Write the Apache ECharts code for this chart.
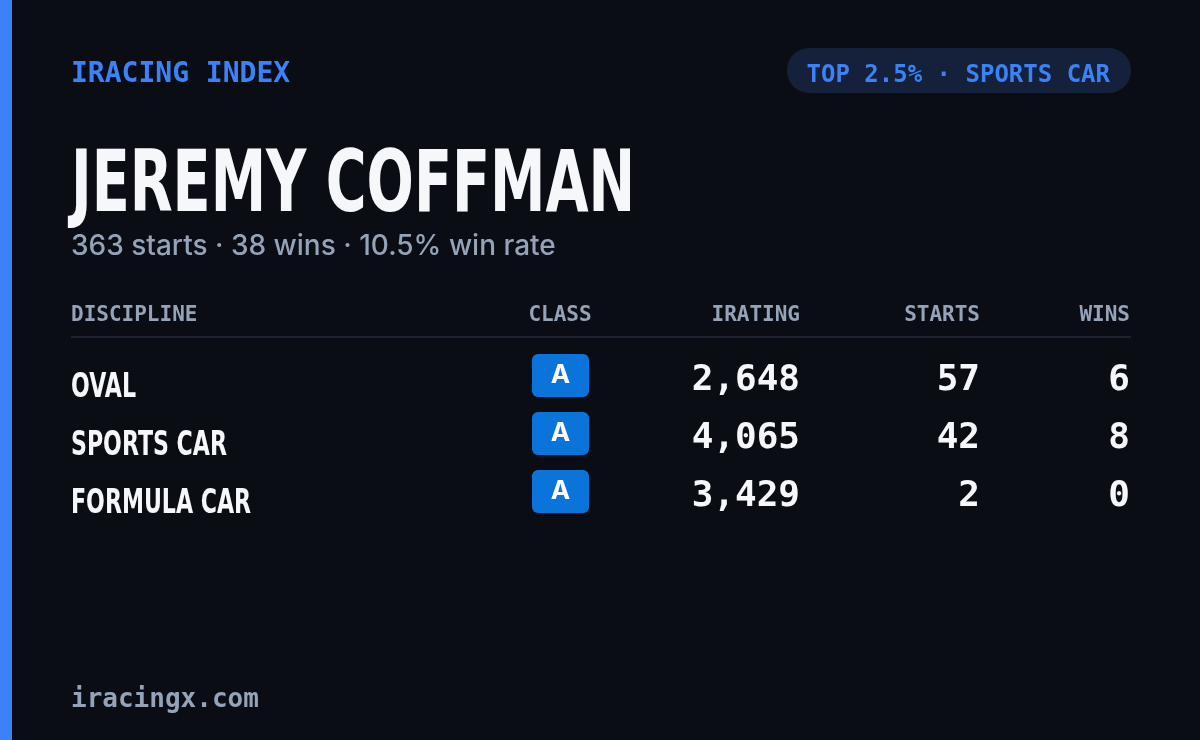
<!DOCTYPE html>
<html><head><meta charset="utf-8">
<script src="https://cdn.jsdelivr.net/npm/echarts@6/dist/echarts.min.js"></script>
<style>html,body{margin:0;padding:0;background:#0a0d14}#c{width:1200px;height:740px}</style>
</head><body><div id="c"></div>
<script>
const disciplines = ["OVAL", "SPORTS CAR", "FORMULA CAR"];
const classes = ["A", "A", "A"];
const iratings = [2648, 4065, 3429];
const starts = [57, 42, 2];
const wins = [6, 8, 0];
const headers = ["DISCIPLINE", "CLASS", "IRATING", "STARTS", "WINS"];
const totalStarts = 363, totalWins = 38;

const chart = echarts.init(document.getElementById('c'));
const mono = '"DejaVu Sans Mono", monospace';
const cond = '"DejaVu Sans", sans-serif';
const g = [];
g.push({type:'rect', shape:{x:0,y:0,width:12,height:740}, style:{fill:'#3b82f6'}});
g.push({type:'text', x:71, y:75, style:{text:'IRACING INDEX', fill:'#3b82f6', font:'bold 28px '+mono, textVerticalAlign:'middle'}});
g.push({type:'rect', shape:{x:787,y:48,width:344,height:45,r:22}, style:{fill:'#15213a'}});
g.push({type:'text', x:1110, y:76, style:{text:'TOP 2.5% · SPORTS CAR', fill:'#3b82f6', font:'bold 24px '+mono, textAlign:'right', textVerticalAlign:'middle'}});
g.push({type:'text', x:71, y:189, scaleX:0.655, style:{text:'JEREMY COFFMAN', fill:'#f5f7fb', font:'bold 85px '+cond, textVerticalAlign:'middle'}});
const rate = (totalWins/totalStarts*100).toFixed(1);
g.push({type:'text', x:71, y:247, style:{text:`${totalStarts} starts · ${totalWins} wins · ${rate}% win rate`, fill:'#94a3b8', font:'500 28px Inter, "Noto Sans", sans-serif', textVerticalAlign:'middle'}});
const colX = [71, 560, 800, 980, 1130];
const colAlign = ['left','center','right','right','right'];
headers.forEach((h,i)=>g.push({type:'text', x:colX[i], y:316, style:{text:h, fill:'#94a3b8', font:'bold 21px '+mono, textAlign:colAlign[i], textVerticalAlign:'middle'}}));
g.push({type:'rect', shape:{x:71,y:336,width:1060,height:2}, style:{fill:'#1c2230'}});
disciplines.forEach((d,r)=>{
  const y = 378 + r*58;
  g.push({type:'text', x:71, y:y+10, scaleX:0.65, style:{text:d, fill:'#f5f7fb', font:'bold 34px '+cond, textVerticalAlign:'middle'}});
  g.push({type:'rect', shape:{x:532,y:y-24,width:57,height:43,r:6}, style:{fill:'#0b74da'}});
  g.push({type:'text', x:560.5, y:y-3, style:{text:classes[r], fill:'#ffffff', font:'bold 26px Inter, "Noto Sans", sans-serif', textAlign:'center', textVerticalAlign:'middle'}});
  const vals = [iratings[r].toLocaleString('en-US'), String(starts[r]), String(wins[r])];
  vals.forEach((v,k)=>g.push({type:'text', x:colX[k+2], y:y+3, style:{text:v, fill:'#f5f7fb', font:'bold 36px '+mono, textAlign:'right', textVerticalAlign:'middle'}}));
});
g.push({type:'text', x:71, y:700, style:{text:'iracingx.com', fill:'#94a3b8', font:'bold 26px '+mono, textVerticalAlign:'middle'}});
chart.setOption({backgroundColor:'#0a0d14', graphic:g});
</script></body></html>
